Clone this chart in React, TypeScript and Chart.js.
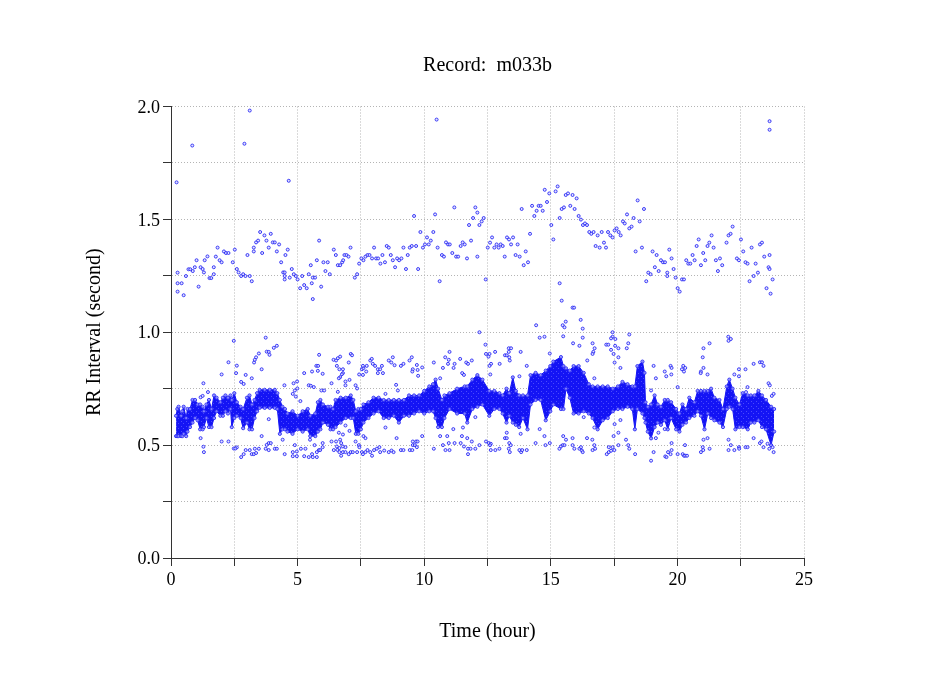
import React, { useEffect, useRef } from "react";
import { Chart, registerables } from "chart.js";

Chart.register(...registerables);

const chartTitle = "Record:  m033b";
const xAxisLabel = "Time (hour)";
const yAxisLabel = "RR Interval (second)";

// Dense band of RR intervals: hour, lower edge, upper edge
const bandHours = [.2,.25,.3,.4,.45,.5,.6,.65,.75,.85,.95,1.05,1.15,1.25,1.3,1.4,1.5,1.6,1.7,1.8,1.95,2.05,2.15,2.25,2.35,2.4,2.5,2.6,2.75,2.85,3,3.1,3.2,3.3,3.4,3.5,3.7,3.9,4.1,4.2,4.3,4.4,4.5,4.6,4.8,5,5.2,5.4,5.5,5.7,5.8,5.9,6,6.2,6.3,6.4,6.5,6.7,6.9,7.1,7.2,7.3,7.4,7.5,7.6,7.8,8,8.2,8.4,8.6,8.8,9,9.2,9.4,9.6,9.8,10,10.2,10.35,10.45,10.55,10.7,10.8,11,11.3,11.6,11.7,11.9,12.1,12.3,12.57,12.77,12.97,13.1,13.25,13.36,13.5,13.62,13.75,13.9,14.08,14.2,14.4,14.6,14.8,14.98,15.1,15.4,15.5,15.6,15.75,15.9,16.1,16.3,16.5,16.65,16.85,17.05,17.25,17.45,17.65,17.83,18.03,18.22,18.32,18.42,18.62,18.7,18.74,18.83,18.96,19.1,19.22,19.35,19.5,19.62,19.75,19.95,20.08,20.2,20.34,20.47,20.67,20.8,20.93,21.07,21.2,21.33,21.46,21.66,21.8,21.95,22.05,22.18,22.29,22.45,22.58,22.78,22.9,23.04,23.2,23.34,23.5,23.7,23.82];
const bandLow = [.54,.54,.54,.54,.54,.55,.54,.56,.58,.6,.62,.61,.57,.57,.58,.62,.58,.58,.62,.65,.63,.63,.65,.64,.66,.58,.62,.63,.62,.575,.6,.57,.57,.62,.65,.665,.665,.665,.665,.66,.55,.57,.57,.56,.55,.57,.56,.57,.54,.54,.56,.57,.6,.59,.57,.57,.58,.6,.62,.62,.62,.55,.55,.57,.6,.62,.64,.65,.62,.62,.63,.6,.63,.63,.64,.65,.64,.65,.65,.62,.58,.58,.62,.66,.64,.64,.6,.66,.67,.68,.63,.66,.66,.64,.6,.63,.6,.59,.58,.62,.57,.68,.7,.7,.61,.65,.68,.66,.66,.75,.71,.64,.64,.65,.64,.62,.57,.61,.62,.65,.66,.66,.67,.66,.57,.66,.64,.62,.6,.56,.53,.58,.6,.59,.61,.57,.62,.57,.56,.59,.6,.62,.63,.65,.63,.57,.64,.62,.61,.6,.58,.66,.67,.66,.57,.58,.58,.57,.6,.6,.61,.58,.57,.5,.56];
const bandHigh = [.63,.66,.67,.63,.65,.67,.62,.66,.66,.7,.7,.68,.68,.67,.65,.68,.7,.66,.72,.71,.69,.71,.72,.71,.72,.7,.73,.69,.67,.66,.71,.72,.68,.7,.73,.745,.745,.745,.745,.73,.7,.67,.66,.64,.65,.63,.65,.66,.63,.64,.69,.7,.68,.67,.67,.66,.7,.71,.71,.72,.7,.65,.66,.66,.68,.69,.71,.71,.7,.7,.7,.7,.7,.72,.72,.72,.74,.76,.77,.79,.75,.7,.72,.73,.75,.76,.76,.79,.81,.79,.74,.74,.73,.72,.75,.73,.8,.74,.72,.72,.72,.81,.82,.81,.83,.85,.87,.89,.85,.84,.83,.85,.85,.82,.77,.76,.76,.76,.76,.75,.76,.78,.77,.76,.76,.85,.87,.82,.69,.67,.68,.72,.68,.67,.7,.7,.69,.66,.64,.68,.66,.71,.69,.74,.74,.74,.74,.75,.71,.7,.66,.76,.79,.75,.71,.68,.73,.72,.72,.72,.74,.72,.7,.67,.66];

// Sparse beats around 1.2 to 2.0 s
const upperBeats = [[.22,1.664],[.84,1.827],[2.9,1.835],[3.11,1.982],[4.65,1.671],[10.49,1.942],[9.6,1.515],[10.43,1.522],[11.19,1.553],[11.77,1.475],[.26,1.264],[.26,1.217],[.42,1.217],[.26,1.18],[.5,1.164],[.59,1.249],[.69,1.279],[.76,1.279],[.86,1.271],[.94,1.288],[1.01,1.319],[1.09,1.202],[1.17,1.288],[1.25,1.28],[1.3,1.265],[1.33,1.319],[1.44,1.336],[1.52,1.24],[1.59,1.24],[1.69,1.257],[1.69,1.288],[1.77,1.335],[1.84,1.375],[1.92,1.319],[2,1.31],[2.09,1.358],[2.17,1.351],[2.27,1.351],[2.44,1.31],[2.52,1.366],[2.6,1.28],[2.67,1.265],[2.77,1.249],[2.85,1.257],[2.94,1.249],[3.02,1.342],[3.11,1.249],[3.19,1.226],[3.27,1.375],[3.27,1.358],[3.36,1.398],[3.44,1.406],[3.52,1.444],[3.6,1.351],[3.69,1.429],[3.77,1.406],[3.86,1.375],[3.94,1.436],[4.02,1.398],[4.1,1.398],[4.18,1.358],[4.27,1.389],[4.35,1.31],[4.43,1.265],[4.49,1.265],[4.49,1.249],[4.49,1.234],[4.52,1.342],[4.61,1.366],[4.69,1.242],[4.77,1.28],[4.85,1.257],[4.93,1.249],[5,1.234],[5.1,1.195],[5.18,1.249],[5.26,1.209],[5.36,1.195],[5.44,1.257],[5.52,1.297],[5.56,1.217],[5.6,1.242],[5.6,1.147],[5.69,1.242],[5.76,1.319],[5.85,1.406],[5.93,1.202],[6.02,1.31],[6.1,1.271],[6.19,1.31],[6.27,1.257],[6.43,1.366],[6.51,1.342],[6.59,1.297],[6.68,1.297],[6.76,1.31],[6.8,1.319],[6.85,1.342],[6.93,1.342],[7.01,1.335],[7.09,1.375],[7.26,1.242],[7.35,1.257],[7.43,1.304],[7.52,1.327],[7.6,1.319],[7.68,1.335],[7.76,1.342],[7.84,1.342],[7.94,1.327],[8.02,1.375],[8.1,1.327],[8.18,1.327],[8.27,1.304],[8.35,1.342],[8.45,1.31],[8.52,1.382],[8.6,1.375],[8.68,1.342],[8.76,1.319],[8.85,1.288],[8.93,1.327],[9.01,1.319],[9.1,1.327],[9.18,1.375],[9.28,1.28],[9.35,1.342],[9.43,1.375],[9.51,1.382],[9.68,1.382],[9.76,1.28],[9.85,1.444],[9.95,1.375],[10.03,1.389],[10.11,1.42],[10.18,1.389],[10.26,1.406],[10.36,1.444],[10.53,1.375],[10.61,1.226],[10.7,1.342],[10.78,1.335],[10.86,1.398],[10.94,1.389],[11.01,1.389],[11.11,1.351],[11.26,1.335],[11.34,1.335],[11.44,1.382],[11.52,1.398],[11.6,1.389],[11.69,1.327],[11.85,1.406],[11.93,1.506],[12.02,1.553],[12.1,1.53],[12.1,1.335],[12.18,1.475],[12.27,1.491],[12.35,1.506],[12.43,1.234],[12.51,1.375],[12.6,1.397],[12.68,1.42],[12.77,1.375],[12.86,1.389],[12.94,1.375],[13.02,1.389],[13.1,1.382],[13.18,1.335],[13.27,1.42],[13.35,1.411],[13.43,1.389],[13.51,1.42],[13.61,1.342],[13.69,1.389],[13.77,1.335],[13.93,1.297],[14.01,1.358],[14.1,1.31],[14.18,1.436],[13.85,1.546],[14.26,1.56],[14.35,1.515],[14.44,1.538],[14.52,1.56],[14.6,1.56],[14.68,1.538],[14.76,1.631],[14.85,1.577],[14.94,1.615],[15.02,1.475],[15.1,1.411],[15.19,1.624],[15.27,1.646],[15.35,1.506],[15.35,1.217],[15.43,1.546],[15.43,1.14],[15.52,1.553],[15.59,1.608],[15.68,1.615],[15.77,1.56],[15.86,1.608],[15.94,1.546],[16.02,1.593],[16.1,1.515],[16.19,1.499],[16.27,1.475],[16.35,1.482],[16.43,1.475],[16.52,1.444],[16.6,1.436],[16.69,1.444],[16.77,1.382],[16.85,1.429],[16.93,1.375],[17.01,1.444],[17.1,1.397],[17.18,1.375],[17.26,1.444],[17.35,1.429],[17.44,1.42],[17.52,1.451],[17.6,1.46],[17.68,1.444],[17.76,1.429],[17.85,1.491],[17.92,1.482],[18.01,1.522],[18.1,1.46],[18.19,1.468],[18.27,1.506],[18.35,1.358],[18.43,1.584],[18.51,1.491],[18.6,1.375],[18.68,1.546],[18.77,1.226],[18.85,1.264],[18.94,1.257],[19.02,1.358],[19.11,1.288],[19.18,1.342],[19.26,1.271],[19.35,1.319],[19.43,1.31],[19.51,1.31],[19.6,1.264],[19.6,1.249],[19.68,1.366],[19.77,1.327],[19.85,1.28],[19.93,1.242],[20.01,1.195],[20.09,1.18],[20.18,1.234],[20.26,1.234],[20.35,1.319],[20.43,1.304],[20.51,1.304],[20.6,1.342],[20.68,1.319],[20.76,1.382],[20.84,1.411],[20.93,1.297],[21.02,1.351],[21.1,1.319],[21.19,1.382],[21.26,1.397],[21.35,1.429],[21.43,1.375],[21.52,1.319],[21.6,1.271],[21.68,1.327],[21.77,1.297],[21.94,1.397],[22.02,1.429],[22.1,1.436],[22.18,1.468],[22.35,1.327],[22.43,1.319],[22.51,1.411],[22.6,1.358],[22.69,1.31],[22.77,1.304],[22.85,1.226],[22.93,1.375],[23.01,1.249],[23.09,1.304],[23.18,1.264],[23.26,1.389],[23.34,1.397],[23.43,1.335],[23.52,1.195],[23.6,1.288],[23.64,1.28],[23.64,1.342],[23.68,1.171],[23.76,1.234],[23.64,1.935],[23.64,1.897]];

// Sparse beats around 0.7 to 1.1 s
const middleBeats = [[14.42,1.031],[14.56,.976],[14.75,.98],[15.47,1.031],[15.54,1.022],[15.59,1.047],[15.49,.982],[15.86,1.109],[15.92,1.109],[16.18,1.055],[16.26,1.016],[16.26,.976],[17.44,1],[17.44,.98],[17.38,.973],[17.55,.97],[18.1,.99],[22.01,.98],[22.11,.97],[12.18,1],[3.74,.976],[2.48,.962],[2,.813],[2.27,.867],[2.6,.852],[2.57,.819],[2.77,.78],[2.87,.771],[2.95,.811],[3.19,.796],[3.28,.866],[3.31,.878],[3.36,.889],[3.47,.906],[3.58,.836],[3.78,.914],[3.86,.913],[3.89,.9],[4.06,.931],[4.18,.94],[1.28,.774],[1.17,.712],[1.25,.718],[1.46,.735],[4.48,.765],[4.84,.774],[4.98,.782],[4.81,.727],[4.89,.742],[4.99,.751],[4.93,.715],[5.11,.695],[5.26,.819],[5.44,.765],[5.52,.763],[5.64,.757],[5.57,.826],[5.74,.851],[5.81,.851],[5.85,.9],[5.8,.829],[5.99,.816],[5.94,.742],[6.05,.742],[6.34,.774],[6.42,.878],[6.52,.875],[6.59,.885],[6.68,.892],[6.55,.851],[6.65,.836],[6.79,.836],[6.68,.801],[6.63,.796],[6.79,.819],[6.75,.814],[6.89,.782],[7.05,.789],[6.89,.765],[7.02,.866],[7.1,.904],[7.15,.898],[6.59,.736],[7.29,.765],[7.35,.751],[7.43,.813],[7.54,.836],[7.6,.841],[7.58,.811],[7.71,.826],[7.73,.851],[7.58,.851],[7.87,.875],[7.93,.882],[7.97,.86],[8.06,.851],[8.17,.836],[8.26,.836],[8.17,.819],[8.37,.819],[8.33,.851],[8.47,.727],[8.6,.875],[8.7,.866],[8.76,.889],[8.83,.854],[8.89,.767],[8.96,.742],[9.08,.851],[9.18,.86],[9.42,.875],[9.51,.889],[9.55,.836],[9.53,.826],[9.71,.855],[9.74,.833],[9.76,.807],[9.92,.844],[10.38,.866],[10.63,.796],[10.74,.842],[10.83,.889],[10.94,.86],[11,.913],[10.97,.878],[11.16,.842],[11.2,.86],[11.42,.882],[11.66,.866],[11.73,.86],[11.5,.819],[11.57,.811],[11.88,.875],[12.44,.904],[12.58,.904],[12.42,.945],[12.8,.913],[12.64,.86],[12.61,.813],[12.54,.892],[12.58,.851],[12.98,.86],[13.19,.898],[13.26,.898],[13.34,.913],[13.36,.889],[13.38,.875],[13.34,.929],[13.43,.929],[13.81,.913],[14.05,.851],[13.76,.805],[14.96,.906],[15.88,.951],[16.13,.94],[16.44,.875],[16.65,.951],[16.73,.929],[16.68,.913],[16.65,.904],[16.72,.796],[17.19,.945],[17.27,.945],[17.38,.922],[17.54,.94],[17.48,.904],[17.67,.929],[17.67,.889],[17.52,.866],[17.75,.842],[18,.929],[18.06,.951],[19.06,.851],[19.15,.796],[19.5,.826],[19.73,.851],[19.77,.842],[19.76,.813],[19.56,.805],[20.01,.757],[20.23,.851],[20.18,.836],[20.31,.842],[20.26,.826],[20.93,.826],[20.92,.819],[21.03,.842],[21,.889],[21.03,.929],[21.27,.951],[21.19,.813],[22.02,.962],[22.43,.836],[22.69,.836],[22.25,.813],[22.43,.805],[23.01,.86],[23.26,.867],[23.34,.867],[23.4,.851],[22.77,.757],[22.71,.735],[23.6,.774],[23.65,.765],[23.8,.727],[23.73,.718],[18.96,.742]];

// Sparse beats around 0.43 to 0.62 s
const lowerBeats = [[1.17,.531],[1.28,.493],[1.3,.469],[2,.516],[2.27,.516],[2.48,.485],[2.6,.49],[2.54,.485],[2.77,.447],[2.87,.46],[2.95,.478],[3.11,.478],[3.19,.46],[3.27,.46],[3.31,.484],[3.36,.465],[3.47,.484],[3.58,.54],[3.74,.484],[3.78,.501],[3.86,.509],[3.94,.509],[3.86,.478],[4.1,.484],[4.18,.484],[4.41,.524],[4.49,.46],[3.86,.615],[4.81,.469],[4.89,.5],[4.81,.451],[4.97,.451],[4.97,.472],[5.13,.484],[5.31,.484],[5.26,.451],[5.44,.447],[5.49,.524],[5.57,.46],[5.6,.447],[5.67,.5],[5.76,.447],[5.76,.469],[5.84,.478],[5.89,.478],[5.99,.509],[5.99,.491],[6.34,.516],[6.43,.478],[6.52,.516],[6.55,.494],[6.57,.479],[6.68,.524],[6.72,.509],[6.63,.555],[6.79,.547],[6.65,.487],[6.79,.494],[6.65,.469],[6.72,.453],[6.79,.469],[6.89,.469],[6.89,.491],[7.02,.46],[7.1,.469],[7.18,.469],[7.05,.563],[6.89,.587],[7.29,.516],[7.35,.469],[7.42,.5],[7.44,.491],[7.54,.469],[7.58,.46],[7.6,.54],[7.68,.531],[7.68,.469],[7.76,.478],[7.87,.469],[7.94,.453],[8.02,.478],[8.13,.484],[8.23,.491],[8.26,.469],[8.47,.578],[8.42,.476],[8.6,.469],[8.71,.476],[8.79,.469],[8.91,.531],[9.08,.478],[9.18,.478],[9.43,.478],[9.53,.478],[9.55,.5],[9.55,.516],[9.63,.5],[9.68,.516],[9.71,.491],[9.74,.516],[9.92,.54],[10.38,.484],[10.63,.54],[10.74,.5],[10.84,.478],[10.91,.54],[10.97,.509],[11,.478],[11.15,.571],[11.2,.509],[11.44,.509],[11.49,.54],[11.53,.578],[11.57,.494],[11.7,.531],[11.73,.484],[11.73,.46],[11.88,.516],[11.83,.484],[12.02,.484],[12.18,.5],[12.44,.516],[12.55,.509],[12.63,.506],[12.6,.5],[12.63,.478],[12.81,.478],[12.97,.484],[13.19,.531],[13.26,.531],[13.26,.555],[13.34,.484],[13.36,.509],[13.42,.5],[13.38,.469],[13.76,.478],[13.83,.469],[13.87,.478],[13.81,.55],[14.05,.478],[14.4,.509],[14.56,.571],[14.75,.54],[14.79,.5],[14.96,.509],[15.34,.484],[15.4,.494],[15.47,.5],[15.54,.5],[15.49,.54],[15.6,.524],[15.86,.531],[15.86,.5],[15.93,.484],[16.13,.484],[16.19,.491],[16.23,.476],[16.26,.469],[16.43,.531],[16.64,.524],[16.72,.5],[16.65,.478],[16.75,.484],[17.21,.46],[17.29,.491],[17.29,.469],[17.38,.475],[17.44,.491],[17.48,.54],[17.51,.478],[17.67,.555],[17.67,.5],[17.97,.524],[18.06,.5],[18.1,.484],[18.33,.46],[17.52,.593],[17.75,.611],[16.72,.578],[16.3,.624],[12.02,.624],[18.96,.431],[19.06,.469],[19.15,.531],[19.25,.555],[19.5,.571],[19.52,.45],[19.57,.447],[19.63,.469],[19.73,.46],[19.77,.509],[19.77,.478],[20.01,.46],[20.21,.46],[20.26,.453],[20.31,.453],[20.38,.453],[20.3,.5],[20.93,.469],[21,.491],[21.02,.478],[21.03,.524],[21.19,.531],[21.27,.484],[22.02,.524],[22.11,.5],[22.02,.478],[22.25,.478],[22.43,.491],[22.44,.484],[22.69,.491],[22.77,.491],[23.01,.531],[23.26,.509],[23.32,.516],[23.4,.491],[23.63,.484],[23.76,.491],[23.8,.469],[23.56,.506]];

const FONT = "'Liberation Serif', 'Times New Roman', serif";
const BLUE = "#1414f5";
const INK = "#333333";
const GRID = "#b4b4b4";

const toPoints = (rows: number[][]) => rows.map(([x, y]) => ({ x, y }));

function speckledFill(ctx: CanvasRenderingContext2D) {
  const tile = document.createElement("canvas");
  tile.width = 5;
  tile.height = 5;
  const t = tile.getContext("2d")!;
  t.fillStyle = BLUE;
  t.fillRect(0, 0, 5, 5);
  t.fillStyle = "rgba(110,110,255,0.6)";
  t.fillRect(1, 1, 1, 1);
  t.fillRect(3, 3, 1, 1);
  return ctx.createPattern(tile, "repeat")!;
}

export default function App() {
  const ref = useRef<HTMLCanvasElement>(null);

  useEffect(() => {
    const canvas = ref.current!;
    const beatStyle = {
      showLine: false,
      pointRadius: 1.5,
      pointBorderWidth: 0.9,
      pointBorderColor: "#2a2af5",
      pointBackgroundColor: "rgba(215,215,255,0.7)",
    };
    const edgeStyle = {
      showLine: true,
      borderWidth: 1,
      borderColor: BLUE,
      pointRadius: 1.6,
      pointBorderWidth: 0.9,
      pointBorderColor: "#2a2af5",
      pointBackgroundColor: "rgba(150,150,255,0.8)",
      tension: 0,
    };
    const chart = new Chart(canvas, {
      type: "scatter",
      data: {
        datasets: [
          { label: "upper", data: toPoints(upperBeats), ...beatStyle },
          { label: "middle", data: toPoints(middleBeats), ...beatStyle },
          { label: "lower", data: toPoints(lowerBeats), ...beatStyle },
          {
            label: "band low",
            data: bandHours.map((x, i) => ({ x, y: bandLow[i] })),
            ...edgeStyle,
          },
          {
            label: "band high",
            data: bandHours.map((x, i) => ({ x, y: bandHigh[i] })),
            ...edgeStyle,
            fill: "-1",
            backgroundColor: speckledFill(canvas.getContext("2d")!),
          },
        ],
      },
      options: {
        responsive: false,
        animation: false,
        layout: { padding: { left: 83, right: 145, top: 54, bottom: 53 } },
        plugins: {
          legend: { display: false },
          tooltip: { enabled: false },
          title: {
            display: true,
            text: chartTitle,
            fullSize: false,
            color: "#000",
            font: { family: FONT, size: 20, weight: "normal" },
            padding: { top: 0, bottom: 28.5 },
          },
        },
        scales: {
          x: {
            type: "linear",
            min: 0,
            max: 25,
            afterFit: (s: any) => {
              s.height = 697 - 53 - 558;
            },
            title: {
              display: true,
              text: xAxisLabel,
              color: "#000",
              font: { family: FONT, size: 20 },
              padding: 0,
            },
            border: { display: true, color: INK, width: 1, dash: [1, 2] },
            grid: { color: GRID, tickColor: INK, tickLength: 8, lineWidth: 1 },
            ticks: {
              stepSize: 2.5,
              autoSkip: false,
              maxRotation: 0,
              color: "#000",
              font: { family: FONT, size: 18 },
              padding: 3,
              callback: (v: any) => (Number(v) % 5 === 0 ? String(v) : ""),
            },
          },
          y: {
            type: "linear",
            min: 0,
            max: 2,
            afterFit: (s: any) => {
              s.width = 171 - 83;
            },
            title: {
              display: true,
              text: yAxisLabel,
              color: "#000",
              font: { family: FONT, size: 20 },
              padding: 0,
            },
            border: { display: true, color: INK, width: 1, dash: [1, 2] },
            grid: { color: GRID, tickColor: INK, tickLength: 8, lineWidth: 1 },
            ticks: {
              stepSize: 0.25,
              autoSkip: false,
              color: "#000",
              font: { family: FONT, size: 18 },
              padding: 3,
              labelOffset: 1.5,
              callback: (v: any) =>
                Number(v) % 0.5 === 0 ? Number(v).toFixed(1) : "",
            },
          },
        },
      },
    } as any);
    return () => chart.destroy();
  }, []);

  return (
    <canvas
      ref={ref}
      width={949}
      height={697}
      style={{ position: "absolute", left: 0, top: 0, display: "block", background: "#fff" }}
    />
  );
}
